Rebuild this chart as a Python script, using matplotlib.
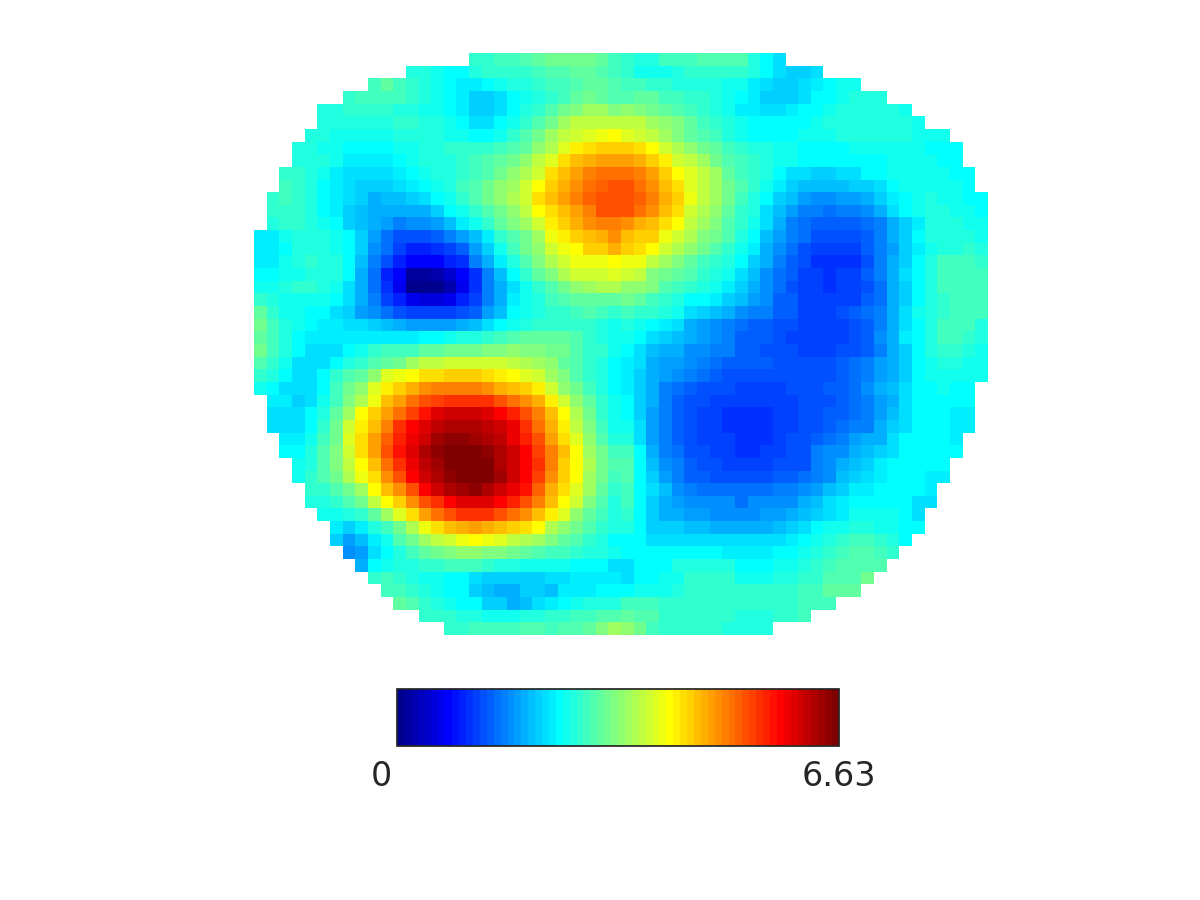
import numpy as np
import matplotlib
matplotlib.use("Agg")
import matplotlib.pyplot as plt
from matplotlib.cm import ScalarMappable
from matplotlib.colors import LinearSegmentedColormap, Normalize

VMIN = 0.0
VMAX = 6.63
N_LEVELS = 64
N_COLS = 58
TICK_LABELS = ["0", "6.63"]

# first occupied column of each row
row_start = [17, 12, 9, 7, 5, 5, 4, 3, 3, 2, 2, 1, 1, 1,
             0, 0, 0, 0, 0, 0, 0, 0, 0, 0, 0, 0, 0,
             1, 1, 1, 2, 2, 3, 3, 4, 4, 5, 6, 6, 7, 8, 9, 10, 11, 13, 15]

# colour-level of each occupied cell (0..63)
rows = [
 [26,26,27,27,28,29,30,30,30,30,29,27,26,25,25,27,27,27,28,28,28,28,25,23,21],
 [25,25,24,23,23,25,26,26,26,26,27,28,28,29,29,28,27,26,24,24,24,25,26,26,26,26,26,25,23,21,20,20,21],
 [27,29,27,26,25,24,23,22,22,23,24,25,25,26,27,27,28,29,29,28,27,27,26,26,25,25,25,25,24,24,22,21,20,20,21,22,23,24,24],
 [26,27,27,27,27,26,25,24,23,22,20,20,21,23,24,25,26,27,29,30,29,28,28,29,29,27,27,26,26,25,24,23,22,20,20,20,21,23,23,24,25,25,25],
 [25,25,26,26,26,26,25,25,24,24,23,22,20,20,21,23,25,26,28,30,31,33,33,31,32,31,30,29,28,27,26,25,24,22,22,21,21,22,23,23,24,25,25,25,25,25,24],
 [25,25,25,25,25,25,26,26,25,25,24,23,21,21,23,24,26,28,30,33,35,35,35,35,35,35,33,32,31,29,27,26,25,24,23,23,23,23,23,24,25,25,25,25,25,25,25,24],
 [25,25,24,24,24,24,24,25,25,25,25,24,24,23,23,24,26,28,30,33,35,36,37,38,39,37,36,35,33,31,29,28,27,25,24,23,23,23,23,24,24,24,25,25,25,25,25,25,24,24,24],
 [25,25,24,24,23,23,23,23,24,24,25,25,26,26,26,26,27,28,29,32,34,37,40,41,42,42,42,41,39,36,34,32,30,29,27,26,25,25,24,24,23,23,23,23,24,24,24,24,24,24,23,23,23],
 [25,25,25,24,22,22,22,22,23,24,25,25,25,26,27,28,29,30,32,35,37,41,43,44,45,45,45,44,42,40,36,35,33,30,28,27,26,25,24,24,23,23,23,23,23,23,23,24,24,24,24,23,23],
 [26,26,25,24,22,21,21,21,21,22,23,24,25,25,26,27,28,30,32,34,36,41,43,45,47,48,48,48,47,45,42,39,37,35,33,29,27,26,25,23,21,21,20,20,21,21,23,23,24,24,24,24,24,23,23],
 [27,26,25,23,22,21,20,20,20,21,22,23,24,25,27,28,30,32,33,36,39,42,44,46,48,49,50,50,48,46,43,41,37,35,33,30,28,26,24,22,20,19,19,19,19,20,20,21,23,24,24,24,24,24,23],
 [26,27,26,25,23,22,21,20,18,19,19,20,21,23,24,26,28,30,32,34,36,41,43,45,47,49,50,50,50,49,47,44,42,38,35,33,30,27,25,23,20,19,17,16,16,17,17,18,20,22,23,24,25,24,24,23,23],
 [26,26,26,25,23,22,20,19,18,18,18,18,18,20,23,24,26,28,30,32,35,39,41,43,45,47,50,50,50,48,46,43,41,36,34,32,29,26,25,21,19,17,15,15,14,15,15,16,18,21,23,24,25,25,24,24,23],
 [25,26,26,25,24,23,20,19,18,17,15,16,16,17,19,22,24,26,29,31,33,36,40,42,44,46,47,47,46,44,43,41,39,35,33,31,28,26,24,21,18,15,14,13,13,13,13,14,15,18,20,22,25,25,25,24,24],
 [22,22,24,25,25,25,24,23,20,17,14,12,12,12,13,15,17,19,22,26,28,30,33,38,40,42,43,44,46,43,42,42,38,36,34,31,30,28,25,23,19,17,15,14,12,12,12,12,13,15,18,20,23,25,25,25,25,24],
 [22,22,23,25,25,25,24,23,20,16,14,11,9,9,10,11,13,17,20,24,27,30,32,36,38,39,42,42,44,42,41,39,36,34,32,30,28,26,24,22,18,16,14,12,11,11,11,11,13,15,17,20,22,24,25,25,26,25],
 [22,22,24,25,26,25,25,23,19,15,12,9,7,7,7,9,10,15,18,22,25,28,31,34,36,38,38,38,39,38,38,35,33,31,29,27,26,25,23,20,18,15,13,12,10,10,10,10,12,15,18,20,23,25,27,27,27,26],
 [23,23,24,24,25,25,25,23,18,14,9,7,1,1,2,4,7,10,15,19,23,26,29,31,34,36,36,36,37,36,35,31,30,29,28,26,25,24,21,19,16,14,13,11,11,10,11,11,13,15,18,21,23,25,27,27,27,27],
 [24,24,25,26,26,25,24,21,18,14,10,6,0,0,0,2,6,10,15,18,21,24,26,28,30,32,33,34,34,32,32,31,28,27,26,25,24,22,20,18,16,14,12,11,11,10,11,11,12,14,18,20,23,25,27,27,27,27],
 [26,25,24,24,24,24,23,21,18,15,11,9,6,5,5,6,9,11,15,18,22,24,25,27,28,29,29,29,29,30,29,27,26,25,23,23,22,20,19,17,16,13,13,11,11,11,11,11,13,14,18,20,23,25,26,27,27,27],
 [29,26,24,24,23,23,21,20,17,16,14,12,11,11,11,11,12,13,17,19,23,24,25,26,26,27,28,27,26,27,26,26,25,24,21,20,19,18,16,15,15,13,13,11,11,11,12,13,14,15,18,21,24,25,26,27,27,27],
 [30,27,25,24,23,22,22,21,21,20,19,18,17,17,17,17,18,19,21,23,24,25,26,26,26,26,26,25,24,25,24,23,22,21,18,17,16,15,14,13,13,12,12,11,11,11,11,12,13,15,18,21,23,25,27,27,27,25],
 [29,27,25,23,22,22,22,22,22,22,22,22,22,23,23,24,25,25,26,27,28,29,29,29,29,28,26,25,24,24,23,21,20,19,18,17,16,15,13,13,13,12,11,11,11,11,11,12,13,16,18,22,23,25,27,27,26,25],
 [30,27,25,23,21,21,21,23,24,26,27,27,27,29,29,30,30,30,31,31,32,31,31,30,30,28,26,26,24,23,21,19,18,18,16,16,15,15,13,13,12,12,12,11,11,11,12,12,13,15,18,20,23,25,26,26,25,24],
 [28,26,24,21,21,21,23,25,26,28,29,30,33,35,35,36,36,36,36,36,35,34,33,32,29,28,26,25,23,22,21,18,17,17,16,15,14,13,13,13,13,12,12,12,12,12,13,14,15,17,18,20,23,24,25,25,24,24],
 [26,25,23,21,21,23,26,28,29,32,37,38,39,41,41,42,42,42,41,40,39,37,36,33,31,28,26,25,23,22,20,18,17,16,15,14,13,12,12,12,12,12,12,12,12,12,13,14,15,17,18,20,23,24,24,24,24,24],
 [24,23,21,21,21,23,27,30,32,37,40,42,44,46,47,47,47,47,46,44,43,42,40,36,32,30,27,25,23,22,20,18,15,14,13,12,12,12,11,11,11,11,12,12,12,13,13,14,16,18,19,21,23,23,24,23,23],
 [22,22,20,21,24,27,31,34,38,43,45,48,50,51,52,52,52,52,50,48,46,44,40,36,32,29,26,24,23,20,18,15,13,12,12,11,11,11,11,11,11,11,12,12,12,13,14,15,17,18,21,23,23,23,23,23],
 [21,21,21,23,25,29,33,39,42,45,48,51,54,57,58,58,58,57,55,53,50,47,43,39,34,30,26,24,23,20,17,15,13,12,11,11,10,10,10,10,11,11,12,12,13,13,14,15,17,19,21,23,23,23,22,22],
 [21,21,21,23,26,30,36,40,43,47,52,55,57,59,60,60,60,59,58,56,52,48,44,40,35,31,27,24,24,21,17,15,13,12,11,11,10,10,10,10,11,11,12,12,13,14,15,15,18,20,21,23,23,23,22,22],
 [22,22,24,27,30,37,41,45,49,53,56,58,61,62,62,61,60,59,56,53,50,45,41,37,32,28,25,25,21,17,15,13,12,11,11,11,10,10,10,11,12,12,13,14,15,17,18,18,21,23,23,23,23,22],
 [23,23,25,28,31,36,41,45,50,54,57,60,62,63,63,63,62,60,58,55,51,47,43,39,33,30,27,27,23,18,15,14,12,12,11,11,10,10,11,11,12,12,15,16,16,18,19,20,21,23,23,23,23,23],
 [24,25,28,31,35,39,43,48,52,56,59,61,63,63,63,63,60,58,55,52,47,42,39,34,30,28,28,23,19,16,15,13,12,12,11,11,11,11,12,12,12,15,16,18,19,20,22,23,23,23,23,23],
 [24,26,28,30,34,38,41,46,50,55,58,60,62,63,63,63,61,58,55,51,46,42,39,33,30,27,28,23,20,17,15,13,13,12,12,12,12,12,13,13,14,15,16,19,20,21,22,23,23,23,22,22],
 [26,26,28,30,33,39,43,46,50,55,58,60,61,62,60,58,56,54,49,44,41,37,33,29,26,27,23,21,19,16,15,14,14,14,14,14,14,15,15,16,17,19,20,22,22,23,23,23,23,22],
 [25,25,26,28,30,35,39,42,46,50,52,55,57,57,57,55,53,50,47,43,39,36,31,28,25,27,23,20,18,17,16,16,16,16,14,16,16,16,16,18,19,21,22,23,23,23,23,23,21,21],
 [24,24,25,26,29,33,37,41,45,48,50,52,52,52,50,48,46,43,40,37,32,29,27,25,26,23,20,18,18,17,17,16,16,16,16,17,17,18,19,20,21,22,24,24,24,24,23,21],
 [22,20,22,25,27,30,34,38,41,43,44,45,44,43,42,41,39,34,32,30,28,26,25,25,23,20,20,20,19,19,18,18,18,18,18,19,20,21,23,24,24,25,25,24,24,23,23],
 [20,17,19,22,24,28,30,33,35,36,38,39,38,37,35,34,33,31,29,28,26,25,23,23,23,21,21,21,21,21,21,21,21,21,21,21,22,23,24,25,26,27,27,26,25,23],
 [16,17,21,23,25,27,29,30,31,32,32,31,31,30,29,28,27,27,26,25,25,24,23,23,23,23,23,23,23,23,22,22,22,22,23,23,24,25,26,27,28,28,27,26],
 [18,23,24,25,25,26,26,27,27,27,26,25,25,24,24,24,24,23,23,23,21,21,23,23,23,25,25,25,25,25,23,23,23,24,24,25,26,27,28,28,28,28],
 [26,27,26,25,24,24,23,23,21,20,20,20,20,20,21,21,22,22,22,22,21,23,23,24,24,26,26,26,26,24,24,24,25,25,26,26,28,28,28,30],
 [27,27,26,25,24,23,23,20,19,18,18,20,20,19,22,22,22,23,23,23,24,24,24,25,26,26,26,26,26,26,26,26,26,27,27,29,29,29],
 [29,28,26,25,24,23,23,20,20,18,19,21,22,23,24,25,25,25,27,27,27,26,26,26,26,26,26,26,26,26,26,26,27,27,27],
 [26,26,26,25,25,24,24,24,25,25,26,26,27,27,28,28,29,28,28,26,26,26,26,26,26,25,25,25,26,26,27],
 [26,26,27,27,27,27,28,28,27,28,28,29,31,33,32,30,27,26,26,26,26,26,25,25,25,25],
]

Z = np.full((len(rows), N_COLS), np.nan)
for r, (s, vals) in enumerate(zip(row_start, rows)):
    Z[r, s:s + len(vals)] = vals
values = (Z + 0.5) / N_LEVELS * (VMAX - VMIN) + VMIN

W, H = 1200, 900
fig = plt.figure(figsize=(W / 100, H / 100), dpi=100)
# MATLAB-style jet: blue, cyan, yellow and red at 1/8, 3/8, 5/8 and 7/8
cmap = LinearSegmentedColormap.from_list(
    "jet_matlab",
    [(0 / 63, (0, 0, 0.5625)), (7 / 63, (0, 0, 1)), (23 / 63, (0, 1, 1)),
     (39 / 63, (1, 1, 0)), (55 / 63, (1, 0, 0)), (63 / 63, (0.5, 0, 0))],
    N=N_LEVELS)
norm = Normalize(VMIN, VMAX)

ax = fig.add_axes([254 / W, 1 - 635 / H, 734 / W, 582 / H])
ax.pcolormesh(np.ma.masked_invalid(values), cmap=cmap, norm=norm,
              antialiased=False, linewidth=0, rasterized=True)
ax.set_xlim(0, N_COLS)
ax.set_ylim(len(rows), 0)
ax.axis("off")

cax = fig.add_axes([397 / W, 1 - 746 / H, 442 / W, 57 / H])
cb = fig.colorbar(ScalarMappable(norm=norm, cmap=cmap), cax=cax,
                  orientation="horizontal", ticks=[])
cb.outline.set_linewidth(1.25)
cb.outline.set_edgecolor("#262626")

fig.text(381 / W, 1 - 777 / H, TICK_LABELS[0], fontsize=24, color="#262626",
         ha="center", va="center", family="DejaVu Sans")
fig.text(839 / W, 1 - 777 / H, TICK_LABELS[1], fontsize=24, color="#262626",
         ha="center", va="center", family="DejaVu Sans")

fig.savefig("out.png", dpi=100, facecolor="white")
